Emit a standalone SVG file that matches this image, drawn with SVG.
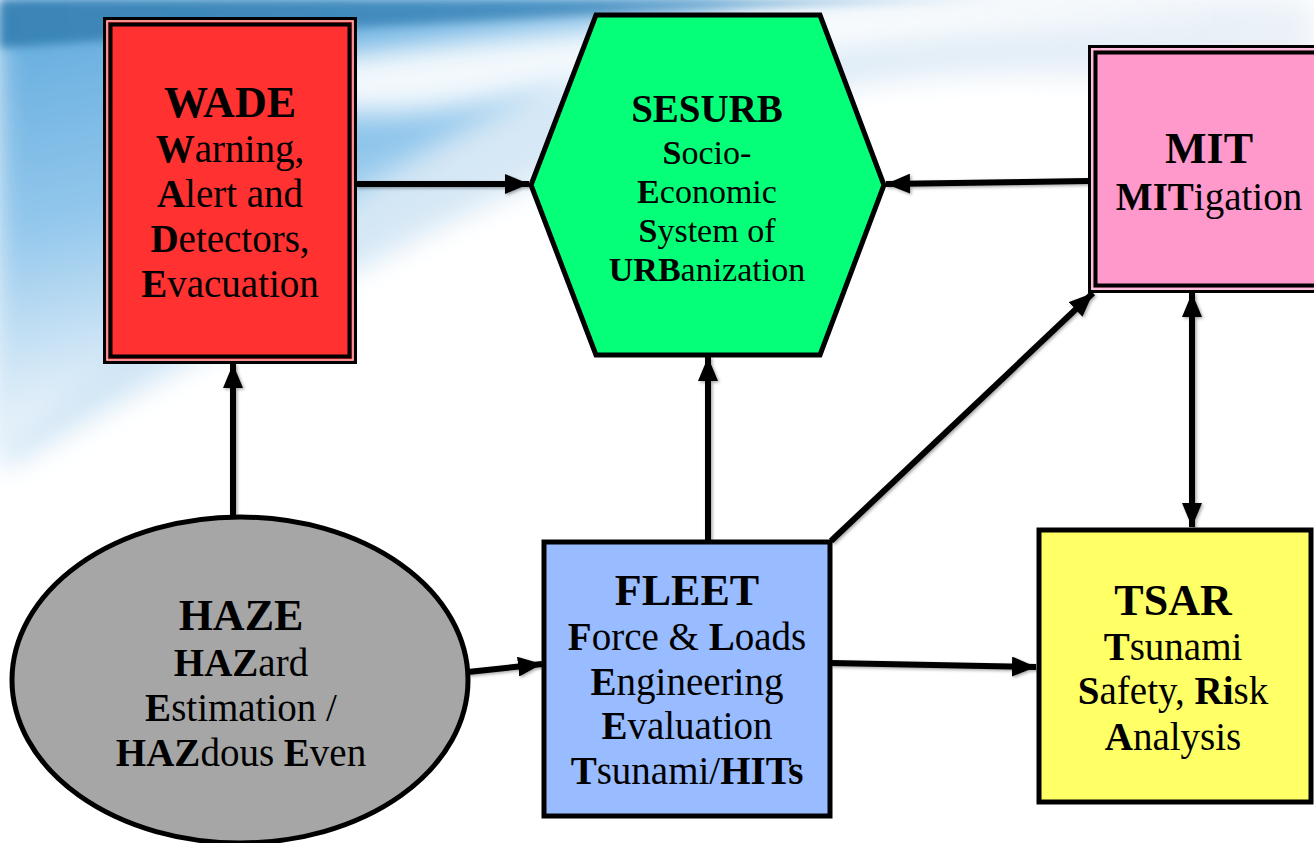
<svg xmlns="http://www.w3.org/2000/svg" width="1314" height="843" viewBox="0 0 1314 843" font-family="'Liberation Serif', 'Times New Roman', serif">
<style>
text{font-family:"Liberation Serif","Times New Roman",serif;fill:#000;text-anchor:middle}
.t{font-size:44px;font-weight:bold}
.b{font-size:39px}
.s{font-size:34px}
tspan.k{font-weight:bold}
.conn line{stroke:#000;stroke-width:6;fill:none}
</style>
<defs>
<linearGradient id="sky" x1="0" y1="0" x2="0.35" y2="1">
<stop offset="0" stop-color="#5fa9dc"/>
<stop offset="0.45" stop-color="#92c7ec"/>
<stop offset="0.8" stop-color="#e2eff9"/>
<stop offset="1" stop-color="#ffffff"/>
</linearGradient>
<linearGradient id="skyR" x1="0" y1="0" x2="1" y2="0.3">
<stop offset="0" stop-color="#c3dff3"/>
<stop offset="1" stop-color="#eef3f8"/>
</linearGradient>
<linearGradient id="band" x1="0" y1="0" x2="1" y2="0">
<stop offset="0" stop-color="#3a84b6"/>
<stop offset="0.6" stop-color="#4790c2"/>
<stop offset="1" stop-color="#8cbfe2"/>
</linearGradient>
<filter id="blur" x="-0.2" y="-0.5" width="1.4" height="2"><feGaussianBlur stdDeviation="14"/></filter>
<filter id="blur2" x="-0.2" y="-0.5" width="1.4" height="2"><feGaussianBlur stdDeviation="5"/></filter>
<filter id="sh" x="-0.1" y="-0.1" width="1.2" height="1.2"><feDropShadow dx="1.5" dy="1.5" stdDeviation="1.5" flood-color="#000" flood-opacity="0.35"/></filter>
<marker id="ah" viewBox="0 0 24 20" refX="24" refY="10" markerWidth="24" markerHeight="20" markerUnits="userSpaceOnUse" orient="auto-start-reverse">
<path d="M0,0 L24,10 L0,20 z" fill="#000"/>
</marker>
</defs>
<g id="background">
<rect x="0" y="0" width="1314" height="843" fill="#ffffff"/>
<path d="M0,0 H1314 V110 C1100,60 900,60 700,120 C500,180 300,300 0,470 Z" fill="url(#skyR)" filter="url(#blur)"/>
<path d="M0,0 H760 C560,60 300,200 0,460 Z" fill="url(#sky)" filter="url(#blur)"/>
<path d="M0,0 H1000 C800,4 550,20 300,30 C180,35 80,42 0,48 Z" fill="url(#band)" filter="url(#blur2)"/>
<path d="M200,75 C400,45 650,15 950,5 C1050,2 1150,8 1220,16 C1000,25 750,50 500,100 C380,125 260,115 200,75 Z" fill="#ffffff" opacity="0.9" filter="url(#blur)"/>
</g>
<g id="connectors" class="conn" filter="url(#sh)">
<line x1="233" y1="518" x2="233" y2="364" marker-end="url(#ah)"/>
<line x1="356" y1="184" x2="529" y2="184" marker-end="url(#ah)"/>
<line x1="1088" y1="181" x2="886" y2="184" marker-end="url(#ah)"/>
<line x1="708" y1="541" x2="708" y2="357" marker-end="url(#ah)"/>
<line x1="831" y1="541" x2="1093" y2="293" marker-end="url(#ah)"/>
<line x1="1192" y1="293" x2="1192" y2="527" marker-start="url(#ah)" marker-end="url(#ah)"/>
<line x1="468" y1="672" x2="542" y2="664" marker-end="url(#ah)"/>
<line x1="831" y1="663" x2="1036" y2="667" marker-end="url(#ah)"/>
</g>
<g id="wade">
<rect x="104.5" y="18.5" width="251" height="344" fill="#ff3131" stroke="#000" stroke-width="3"/>
<rect x="107" y="21" width="246" height="339" fill="none" stroke="#f2d0d0" stroke-width="1.2"/>
<rect x="110.5" y="24.5" width="239" height="332" fill="none" stroke="#000" stroke-width="4"/>
<text x="230" y="117" class="t">WADE</text>
<text x="230" y="162" class="b"><tspan class="k">W</tspan>arning,</text>
<text x="230" y="207" class="b"><tspan class="k">A</tspan>lert and</text>
<text x="230" y="252" class="b"><tspan class="k">D</tspan>etectors,</text>
<text x="230" y="297" class="b"><tspan class="k">E</tspan>vacuation</text>
</g>
<g id="sesurb">
<polygon points="531,185 596,15 820,15 884,185 820,355 596,355" fill="#05ff78" stroke="#000" stroke-width="5" stroke-linejoin="miter"/>
<text x="707" y="122" style="font-size:39px;font-weight:bold">SESURB</text>
<text x="707" y="164" class="s"><tspan class="k">S</tspan>ocio-</text>
<text x="707" y="203" class="s"><tspan class="k">E</tspan>conomic</text>
<text x="707" y="242" class="s"><tspan class="k">S</tspan>ystem of</text>
<text x="707" y="281" class="s"><tspan class="k">URB</tspan>anization</text>
</g>
<g id="mit">
<rect x="1089.5" y="46.5" width="240" height="245" fill="#ff99cc" stroke="#000" stroke-width="3"/>
<rect x="1092" y="49" width="240" height="240" fill="none" stroke="#ffd6ea" stroke-width="1.2"/>
<rect x="1095.5" y="52.5" width="240" height="233" fill="none" stroke="#000" stroke-width="4"/>
<text x="1209" y="163" class="t">MIT</text>
<text x="1209" y="210" class="b"><tspan class="k">MIT</tspan>igation</text>
</g>
<g id="haze">
<ellipse cx="240" cy="680" rx="228" ry="163" fill="#a6a6a6" stroke="#000" stroke-width="5"/>
<text x="241" y="630" class="t">HAZE</text>
<text x="241" y="676" class="b"><tspan class="k">HAZ</tspan>ard</text>
<text x="241" y="721" class="b"><tspan class="k">E</tspan>stimation /</text>
<text x="241" y="766" class="b"><tspan class="k">HAZ</tspan>dous <tspan class="k">E</tspan>ven</text>
</g>
<g id="fleet">
<rect x="544" y="542" width="286" height="274" fill="#99bbff" stroke="#000" stroke-width="5"/>
<text x="687" y="605" class="t">FLEET</text>
<text x="687" y="650" class="b"><tspan class="k">F</tspan>orce &amp; <tspan class="k">L</tspan>oads</text>
<text x="687" y="695" class="b"><tspan class="k">E</tspan>ngineering</text>
<text x="687" y="739" class="b"><tspan class="k">E</tspan>valuation</text>
<text x="687" y="784" class="b"><tspan class="k">T</tspan>sunami/<tspan class="k">HITs</tspan></text>
</g>
<g id="tsar">
<rect x="1039" y="530" width="272" height="272" fill="#ffff66" stroke="#000" stroke-width="5"/>
<text x="1173" y="615" class="t">TSAR</text>
<text x="1173" y="660" class="b"><tspan class="k">T</tspan>sunami</text>
<text x="1173" y="704" class="b"><tspan class="k">S</tspan>afety, <tspan class="k">Ri</tspan>sk</text>
<text x="1173" y="750" class="b"><tspan class="k">A</tspan>nalysis</text>
</g>
</svg>
